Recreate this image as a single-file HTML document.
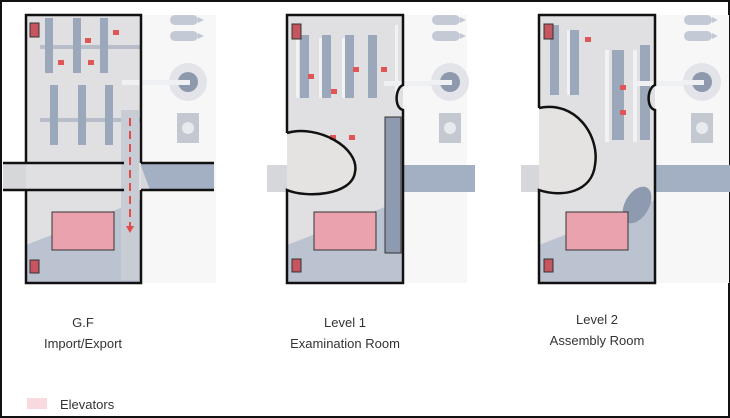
<!DOCTYPE html>
<html><head><meta charset="utf-8"><style>
html,body{margin:0;padding:0;background:#fff}
svg{display:block}
text{font-family:"Liberation Sans",sans-serif;fill:#333}
</style></head><body>
<svg width="730" height="418" viewBox="0 0 730 418" xmlns="http://www.w3.org/2000/svg">
<rect x="1" y="1" width="728" height="416" fill="#fff" stroke="#111" stroke-width="2"/>
<defs>
<g id="eq">
  <rect x="0" y="0" width="28" height="10" rx="5" fill="#c4cad5"/>
  <path d="M28 2 L34 5 L28 8 Z" fill="#c4cad5"/>
  <rect x="0" y="16" width="28" height="10" rx="5" fill="#c4cad5"/>
  <path d="M28 18 L34 21 L28 24 Z" fill="#c4cad5"/>
  <circle cx="18" cy="67" r="19" fill="#e2e4e9"/>
  <circle cx="18" cy="67" r="10" fill="#8e99ad"/>
  <rect x="-2" y="65" width="22" height="5" fill="#eef0f3"/>
  <rect x="7" y="98" width="22" height="30" fill="#c4c8d0"/>
  <circle cx="18" cy="113" r="6" fill="#e8eaee"/>
</g>
</defs>

<!-- Plan 1 -->
<rect x="26" y="15" width="190" height="268" fill="#f7f7f8"/>
<rect x="3" y="163" width="211" height="27" fill="#d6d7da"/>
<path d="M140 163 L214 163 L214 190 L150 190 Z" fill="#a3afc2"/>
<rect x="26" y="15" width="115" height="268" fill="#e0e0e2"/>
<path d="M26 283 L26 245 L141 200 L141 283 Z" fill="#bcc3d0"/>
<g fill="#9ba7bb">
<rect x="45" y="18" width="8" height="55"/><rect x="73" y="18" width="8" height="55"/><rect x="100" y="18" width="8" height="55"/>
<rect x="50" y="85" width="8" height="60"/><rect x="78" y="85" width="8" height="60"/><rect x="105" y="85" width="8" height="60"/>
<rect x="40" y="45" width="100" height="4" opacity=".6"/><rect x="40" y="118" width="100" height="4" opacity=".6"/>
</g>
<g fill="#e05555"><rect x="85" y="38" width="6" height="5"/><rect x="113" y="30" width="6" height="5"/><rect x="58" y="60" width="6" height="5"/><rect x="88" y="60" width="6" height="5"/></g>
<rect x="121" y="110" width="18" height="170" fill="#c8ccd5"/>
<line x1="130" y1="118" x2="130" y2="228" stroke="#e34a4a" stroke-width="2" stroke-dasharray="8,5"/>
<path d="M126 226 L134 226 L130 233 Z" fill="#e34a4a"/>
<rect x="52" y="212" width="62" height="38" fill="#eaa3ae" stroke="#333" stroke-width="1"/>
<rect x="30" y="23" width="9" height="14" fill="#c5565f" stroke="#333"/>
<rect x="30" y="260" width="9" height="13" fill="#c5565f" stroke="#333"/>
<rect x="122" y="80" width="60" height="5" fill="#eef0f3"/>
<use href="#eq" x="170" y="15"/>
<path d="M26 163 L26 15 L141 15 L141 163 M3 163 L124 163 M141 163 L214 163 M3 190 L124 190 M141 190 L214 190 M26 190 L26 283 L141 283 L141 190" fill="none" stroke="#111" stroke-width="2.5"/>

<!-- Plan 2 -->
<rect x="287" y="15" width="180" height="268" fill="#f7f7f8"/>
<rect x="267" y="165" width="208" height="27" fill="#d6d7da"/>
<rect x="403" y="165" width="72" height="27" fill="#a3afc2"/>
<rect x="287" y="15" width="116" height="268" fill="#e0e0e2"/>
<path d="M287 283 L287 245 L403 200 L403 283 Z" fill="#bcc3d0"/>
<g fill="#9ba7bb"><rect x="300" y="35" width="9" height="63"/><rect x="322" y="35" width="9" height="63"/><rect x="345" y="35" width="9" height="63"/><rect x="368" y="35" width="9" height="63"/></g>
<g fill="#f2f2f4"><rect x="296" y="38" width="3" height="60"/><rect x="319" y="38" width="3" height="60"/><rect x="342" y="38" width="3" height="60"/><rect x="395" y="25" width="3" height="70"/></g>
<g fill="#e05555"><rect x="308" y="74" width="6" height="5"/><rect x="331" y="89" width="6" height="5"/><rect x="353" y="67" width="6" height="5"/><rect x="381" y="67" width="6" height="5"/><rect x="330" y="135" width="6" height="5"/><rect x="349" y="135" width="6" height="5"/></g>
<path d="M287 133 C320 128 360 150 355 172 C352 192 310 195 287 190 Z" fill="#e4e3e1"/>
<rect x="385" y="117" width="16" height="136" fill="#8e9aaf" stroke="#333" stroke-width="1"/>
<rect x="314" y="212" width="62" height="38" fill="#eaa3ae" stroke="#333"/>
<rect x="292" y="24" width="9" height="15" fill="#c5565f" stroke="#333"/>
<rect x="292" y="259" width="9" height="13" fill="#c5565f" stroke="#333"/>
<rect x="384" y="81" width="60" height="5" fill="#eef0f3"/>
<use href="#eq" x="432" y="15"/>
<path d="M287 133 L287 15 L403 15 L403 85 C395 88 394 108 403 110 L403 283 L287 283 L287 190 C305 198 352 196 355 172 C360 148 318 124 287 133" fill="none" stroke="#111" stroke-width="2.5"/>

<!-- Plan 3 -->
<rect x="539" y="15" width="190" height="268" fill="#f7f7f8"/>
<rect x="521" y="165" width="209" height="27" fill="#d6d7da"/>
<rect x="655" y="165" width="75" height="27" fill="#a3afc2"/>
<rect x="539" y="15" width="116" height="268" fill="#e0e0e2"/>
<path d="M539 283 L539 245 L655 200 L655 283 Z" fill="#bcc3d0"/>
<g fill="#9ba7bb"><rect x="550" y="25" width="9" height="70"/><rect x="570" y="30" width="9" height="65"/><rect x="612" y="50" width="12" height="90"/><rect x="640" y="45" width="10" height="95"/></g>
<g fill="#f2f2f4"><rect x="605" y="50" width="4" height="92"/><rect x="633" y="50" width="4" height="92"/><rect x="567" y="30" width="3" height="65"/></g>
<g fill="#e05555"><rect x="585" y="37" width="6" height="5"/><rect x="620" y="85" width="6" height="5"/><rect x="620" y="110" width="6" height="5"/></g>
<path d="M539 108 C575 100 600 140 595 165 C592 190 560 193 539 190 Z" fill="#e4e3e1"/>
<ellipse cx="637" cy="205" rx="12" ry="20" transform="rotate(30 637 205)" fill="#8e9aaf"/>
<rect x="566" y="212" width="62" height="38" fill="#eaa3ae" stroke="#333"/>
<rect x="544" y="24" width="9" height="15" fill="#c5565f" stroke="#333"/>
<rect x="544" y="259" width="9" height="13" fill="#c5565f" stroke="#333"/>
<rect x="636" y="81" width="60" height="5" fill="#eef0f3"/>
<use href="#eq" x="684" y="15"/>
<path d="M539 108 L539 15 L655 15 L655 85 C647 88 646 108 655 110 L655 283 L539 283 L539 190 C562 198 592 192 595 165 C600 135 575 100 539 108" fill="none" stroke="#111" stroke-width="2.5"/>

<!-- Labels -->
<g font-size="13" text-anchor="middle">
<text x="83" y="327">G.F</text><text x="83" y="348">Import/Export</text>
<text x="345" y="327">Level 1</text><text x="345" y="348">Examination Room</text>
<text x="597" y="324">Level 2</text><text x="597" y="345">Assembly Room</text>
</g>
<rect x="27" y="398" width="20" height="11" fill="#f8d9dd"/>
<text x="60" y="409" font-size="13">Elevators</text>
</svg>
</body></html>
